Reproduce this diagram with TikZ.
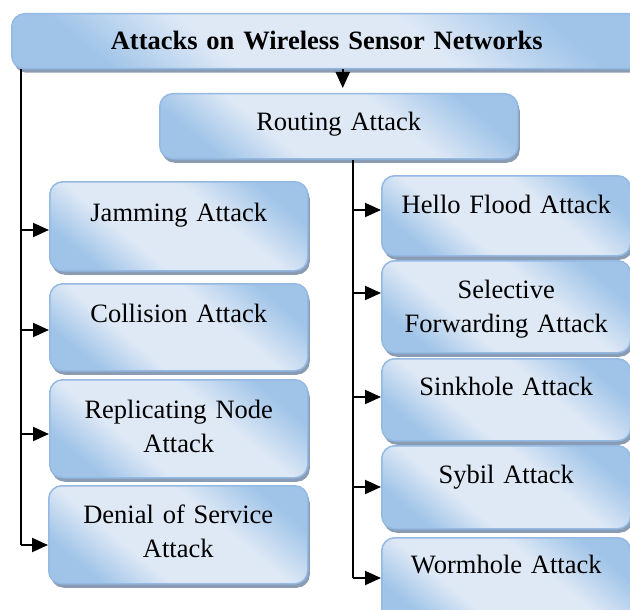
\documentclass[tikz,border=0pt]{standalone}
\usepackage{fontspec}
\setmainfont{Liberation Serif}
\usetikzlibrary{arrows.meta,shadows}
\definecolor{boxblue}{HTML}{A0C4E8}
\definecolor{boxpale}{HTML}{DFE9F6}
\definecolor{boxline}{HTML}{94B9E2}
\definecolor{boxshade}{HTML}{8A9CB4}
\pgfdeclareverticalshading{atkshade}{100bp}{color(0bp)=(boxblue); color(25bp)=(boxblue);
  color(38bp)=(boxpale); color(60bp)=(boxpale); color(75bp)=(boxblue); color(100bp)=(boxblue)}

\tikzset{
  atkbox/.style={draw=boxline,line width=1.5pt,rounded corners=13pt,anchor=north west,inner sep=0pt,
    shading=atkshade,shading angle=-40,
    drop shadow={shadow xshift=2pt,shadow yshift=-4pt,fill=boxshade,opacity=1}},
  atktext/.style={anchor=base,align=center,text width=240pt,inner sep=0pt},
  link/.style={line width=2pt},
  arr/.style={link,-{Triangle[length=16pt,width=14pt]}}
}

\begin{document}
\begin{tikzpicture}[x=1pt,y=-1pt,font=\fontsize{26.5}{34}\selectfont]  % 1 unit = 1 px
  \useasboundingbox (0,0) rectangle (630,610);
  % ---- boxes
  \node[atkbox,minimum width=630pt,minimum height=55pt] (title) at (11,13) {};
  \node[atkbox,minimum width=358pt,minimum height=65pt] (routing) at (159,93) {};
  \foreach \n/\x/\y/\w/\h in {jam/49/181/258/89, col/49/283/258/87, rep/49/379/258/98, dos/48/485/259/98,
      hello/381/175/249/80, sel/381/260/249/92, sink/381/358/249/82, sybil/381/445/249/83, worm/381/537/249/88}
    \node[atkbox,minimum width=\w pt,minimum height=\h pt] (\n) at (\x,\y) {};
  % ---- texts
  \node[atktext,text width=560pt,font=\fontsize{26.5}{34}\selectfont\bfseries] (title-t) at (title.north |- 0,50)
    {Attacks on Wireless Sensor Networks};
  \node[atktext] (routing-t) at (routing.north |- 0,131) {Routing Attack};
  \foreach \n/\b/\txt in {jam/221/{Jamming Attack}, col/322/{Collision Attack}, rep/418/{Replicating Node\\Attack},
      dos/523/{Denial of Service\\Attack}, hello/213/{Hello Flood Attack}, sel/298/{Selective\\Forwarding Attack},
      sink/395/{Sinkhole Attack}, sybil/483/{Sybil Attack}, worm/573/{Wormhole Attack}}
    \node[atktext] (\n-t) at (\n.north |- 0,\b) {\txt};
  % ---- connectors
  \draw[arr] ([xshift=4pt]routing.north |- title.south) -- ([xshift=4pt,yshift=5pt]routing.north);
  \coordinate (tl) at ([xshift=10pt]title.south west);
  \coordinate (tr) at ([xshift=14pt]routing.south);
  \draw[link] (tl) -- (tl |- 0,545);
  \draw[link] (tr) -- (tr |- 0,578);
  \foreach \n/\y in {jam/230, col/330, rep/434, dos/545}
    \draw[arr] (tl |- 0,\y) -- (\n.west |- 0,\y);
  \foreach \n/\y in {hello/210, sel/293, sink/397, sybil/487, worm/578}
    \draw[arr] (tr |- 0,\y) -- (\n.west |- 0,\y);
\end{tikzpicture}
\end{document}
